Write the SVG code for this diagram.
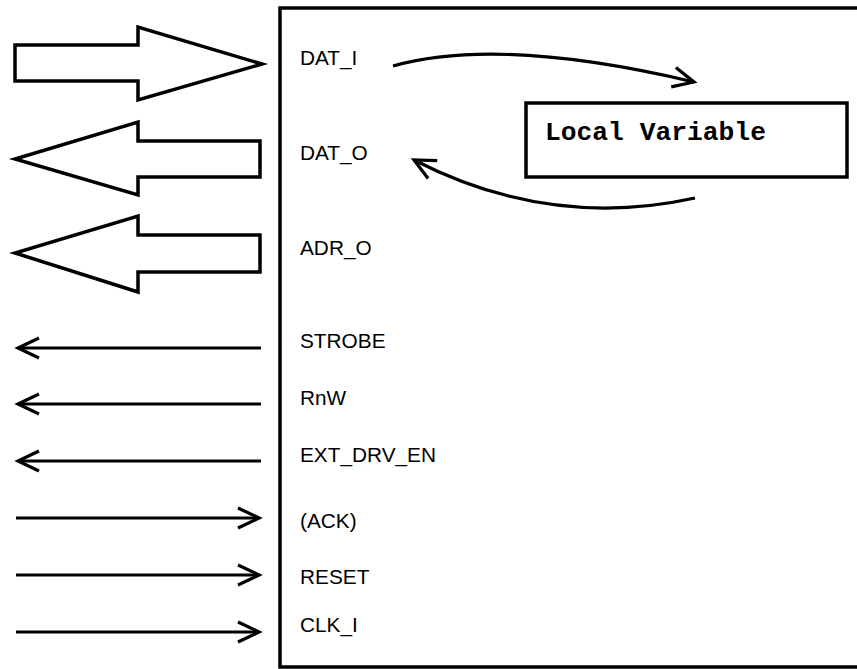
<svg xmlns="http://www.w3.org/2000/svg" width="857" height="669" viewBox="0 0 857 669">
  <style>
    .outline { fill: #fff; stroke: #000; stroke-width: 3.5; stroke-linejoin: miter; }
    .wire { fill: none; stroke: #000; stroke-width: 3.2; }
    .sig { font-family: "Liberation Sans", Arial, sans-serif; font-size: 20.8px; fill: #000; }
    .var { font-family: "Liberation Mono", "Courier New", monospace; font-size: 26.3px; font-weight: bold; fill: #000; }
  </style>
  <defs>
    <marker id="chev" markerUnits="userSpaceOnUse" markerWidth="40" markerHeight="40"
            refX="0" refY="0" orient="auto" overflow="visible" viewBox="-30 -20 40 40">
      <path d="M-21,-10 L0,0 L-21,10" fill="none" stroke="#000" stroke-width="3.2"/>
    </marker>
  </defs>

  <rect width="857" height="669" fill="#fff"/>

  <!-- module body -->
  <g id="module">
    <rect class="outline" x="280" y="8" width="620" height="659"/>
  </g>

  <!-- local variable store -->
  <g id="local-variable">
    <rect class="outline" x="526" y="103" width="321" height="74"/>
    <text class="var" x="545" y="140">Local Variable</text>
  </g>

  <!-- port labels -->
  <g id="port-labels">
    <text class="sig" x="300" y="65">DAT_I</text>
    <text class="sig" x="300" y="160">DAT_O</text>
    <text class="sig" x="300" y="255">ADR_O</text>
    <text class="sig" x="300" y="348">STROBE</text>
    <text class="sig" x="300" y="405">RnW</text>
    <text class="sig" x="300" y="462">EXT_DRV_EN</text>
    <text class="sig" x="300" y="528">(ACK)</text>
    <text class="sig" x="300" y="584">RESET</text>
    <text class="sig" x="300" y="632">CLK_I</text>
  </g>

  <!-- bus arrows -->
  <g id="bus-dat-i">
    <polygon class="outline" points="15,45 138,45 138,27 262,64 138,100 138,81 15,81"/>
  </g>
  <g id="bus-dat-o">
    <polygon class="outline" points="260,141 138,141 138,122 15,159 138,195 138,177 260,177"/>
  </g>
  <g id="bus-adr-o">
    <polygon class="outline" points="260,235 138,235 138,216 15,253 138,292 138,272 260,272"/>
  </g>

  <!-- connectors -->
  <g id="connectors">
    <line class="wire" x1="261" y1="348" x2="18" y2="348" marker-end="url(#chev)"/>
    <line class="wire" x1="261" y1="404" x2="18" y2="404" marker-end="url(#chev)"/>
    <line class="wire" x1="261" y1="461" x2="18" y2="461" marker-end="url(#chev)"/>
    <line class="wire" x1="16" y1="518" x2="259" y2="518" marker-end="url(#chev)"/>
    <line class="wire" x1="16" y1="575" x2="259" y2="575" marker-end="url(#chev)"/>
    <line class="wire" x1="16" y1="632" x2="259" y2="632" marker-end="url(#chev)"/>
    <path class="wire" d="M393,66 Q500,36 694,82" marker-end="url(#chev)"/>
    <path class="wire" d="M695,198 Q550,230 414,160" marker-end="url(#chev)"/>
  </g>
</svg>
